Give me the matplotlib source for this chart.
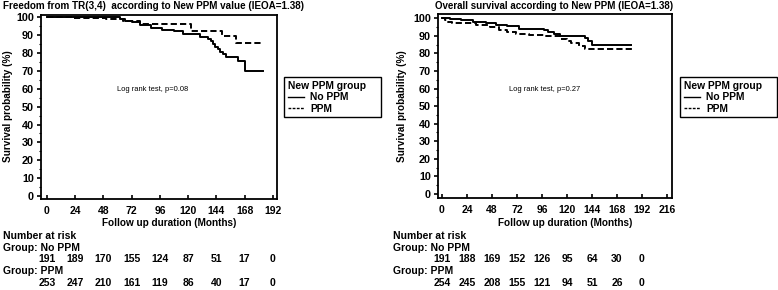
import matplotlib
matplotlib.use("Agg")
import matplotlib.pyplot as plt
import matplotlib.transforms as mtransforms
from matplotlib.lines import Line2D

plt.rcParams['font.family'] = ['Liberation Sans', 'DejaVu Sans']
plt.rcParams['font.weight'] = 'bold'

W, H = 778, 290

# --- data ---
# left: freedom from TR(3,4)
tr_nopp_t = [0, 62, 66, 72, 79, 88, 98, 108, 116, 130, 137, 139, 141, 143, 145, 147, 150, 152, 162, 168, 184]
tr_nopp_s = [100, 99, 98, 97.4, 95.5, 94, 93, 92.5, 90.5, 89, 88, 86.5, 85, 83.5, 82, 80.5, 79.5, 78, 75.5, 70, 70]
tr_ppm_t = [0, 22, 50, 65, 79, 122, 149, 161, 184]
tr_ppm_s = [100, 99.5, 99, 97.8, 96, 92.5, 89.6, 85.5, 85.5]

# right: overall survival
os_nopp_t = [0, 8, 18, 30, 42, 52, 62, 74, 98, 102, 108, 113, 137, 140, 144, 181]
os_nopp_s = [100, 99.4, 98.8, 98, 97.3, 96.3, 95.5, 94, 93.3, 92, 91, 90, 88.5, 87, 85, 85]
os_ppm_t = [0, 3, 6, 10, 33, 46, 55, 62, 71, 84, 100, 113, 120, 124, 132, 137, 182]
os_ppm_s = [100, 99, 98, 97.2, 96, 94.8, 93.2, 92, 91, 90.2, 89.6, 88.3, 87.3, 85.8, 84.4, 82.5, 82.5]

risk_times = [0, 24, 48, 72, 96, 120, 144, 168, 192]
tr_risk_nopp = [191, 189, 170, 155, 124, 87, 51, 17, 0]
tr_risk_ppm = [253, 247, 210, 161, 119, 86, 40, 17, 0]
os_risk_nopp = [191, 188, 169, 152, 126, 95, 64, 30, 0]
os_risk_ppm = [254, 245, 208, 155, 121, 94, 51, 26, 0]

titles = ["Freedom from TR(3,4)  according to New PPM value (IEOA=1.38)",
          "Overall survival according to New PPM (IEOA=1.38)"]
pvals = ["Log rank test, p=0.08", "Log rank test, p=0.27"]


def fx(x):
    return x / W


def fy(y):
    return 1 - y / H


fig = plt.figure(figsize=(W / 100, H / 100), dpi=100)
fig.patch.set_facecolor('white')

panels = [
    dict(box=(41, 15, 277, 199), xlim=(-5.1, 195.5), ylim=(-1.7, 101.3), xticks=range(0, 193, 24),
         curves=((tr_nopp_t, tr_nopp_s), (tr_ppm_t, tr_ppm_s)), risk=(tr_risk_nopp, tr_risk_ppm),
         title=titles[0], title_size=7.1, title_x=3, ylab_x=8, p=pvals[0], p_x=153, leg=(284, 77), txt_x=3),
    dict(box=(438, 14, 672, 198), xlim=(-3.8, 220.8), ylim=(-2.3, 102.4), xticks=range(0, 217, 24),
         curves=((os_nopp_t, os_nopp_s), (os_ppm_t, os_ppm_s)), risk=(os_risk_nopp, os_risk_ppm),
         title=titles[1], title_size=7.0, title_x=435, ylab_x=402, p=pvals[1], p_x=545, leg=(680, 77), txt_x=393),
]

for pn in panels:
    x0, y0, x1, y1 = pn['box']
    ax = fig.add_axes([fx(x0), fy(y1), (x1 - x0) / W, (y1 - y0) / H])
    (t1, s1), (t2, s2) = pn['curves']
    ax.step(t1, s1, where='post', color='black', lw=1.4)
    ax.step(t2, s2, where='post', color='black', lw=1.4, dashes=(3.2, 1.6))
    ax.set_xlim(*pn['xlim'])
    ax.set_ylim(*pn['ylim'])
    ax.set_xticks(list(pn['xticks']))
    ax.set_yticks(range(0, 101, 10))
    ax.set_yticks(range(5, 100, 10), minor=True)
    ax.tick_params(axis='x', direction='in', length=3, width=1.2, labelsize=7.5, pad=5)
    ax.tick_params(axis='y', which='major', direction='out', length=3, width=1.2, labelsize=7.8, pad=2)
    ax.tick_params(axis='y', which='minor', direction='out', length=1.5, width=0.8)
    for lab in ax.get_xticklabels() + ax.get_yticklabels():
        lab.set_fontweight('bold')
    for sp in ax.spines.values():
        sp.set_linewidth(1.3)

    fig.text(fx(pn['title_x']), fy(6), pn['title'], fontsize=pn['title_size'], fontweight='bold',
             ha='left', va='center')
    fig.text(fx(pn['ylab_x']), fy(106), "Survival probability (%)", fontsize=7.2, fontweight='bold',
             rotation=90, ha='center', va='center')
    fig.text(fx((x0 + x1) / 2 + 10), fy(223), "Follow up duration (Months)", fontsize=7.2, fontweight='bold',
             ha='center', va='center')
    fig.text(fx(pn['p_x']), fy(89), pn['p'], fontsize=5.4, fontweight='normal', ha='center', va='center')

    handles = [Line2D([], [], color='black', lw=1.0),
               Line2D([], [], color='black', lw=1.0, dashes=(2, 1))]
    leg = ax.legend(handles, ["No PPM", "PPM"], title="New PPM group    ", loc='upper left',
                    bbox_to_anchor=(fx(pn['leg'][0]), fy(pn['leg'][1])), bbox_transform=fig.transFigure,
                    frameon=True, fancybox=False, edgecolor='black', framealpha=1,
                    prop=dict(size=7.4, weight='bold'), title_fontproperties=dict(size=7.4, weight='bold'),
                    handlelength=1.6, handletextpad=0.6, borderpad=0.35, labelspacing=0.15,
                    borderaxespad=0, alignment='left')
    leg.get_frame().set_linewidth(1.0)

    # number at risk table
    tx = pn['txt_x']
    fig.text(fx(tx), fy(236), "Number at risk", fontsize=7.5, fontweight='bold', ha='left', va='center')
    fig.text(fx(tx), fy(248), "Group: No PPM", fontsize=7.5, fontweight='bold', ha='left', va='center')
    fig.text(fx(tx), fy(271), "Group: PPM", fontsize=7.5, fontweight='bold', ha='left', va='center')
    trans = mtransforms.blended_transform_factory(ax.transData, fig.transFigure)
    nopp, ppm = pn['risk']
    for t, a, b in zip(risk_times, nopp, ppm):
        ax.text(t, fy(259), str(a), transform=trans, fontsize=7.5, fontweight='bold',
                ha='center', va='center', clip_on=False)
        ax.text(t, fy(283), str(b), transform=trans, fontsize=7.5, fontweight='bold',
                ha='center', va='center', clip_on=False)

fig.savefig("out.png", dpi=100, facecolor='white')
